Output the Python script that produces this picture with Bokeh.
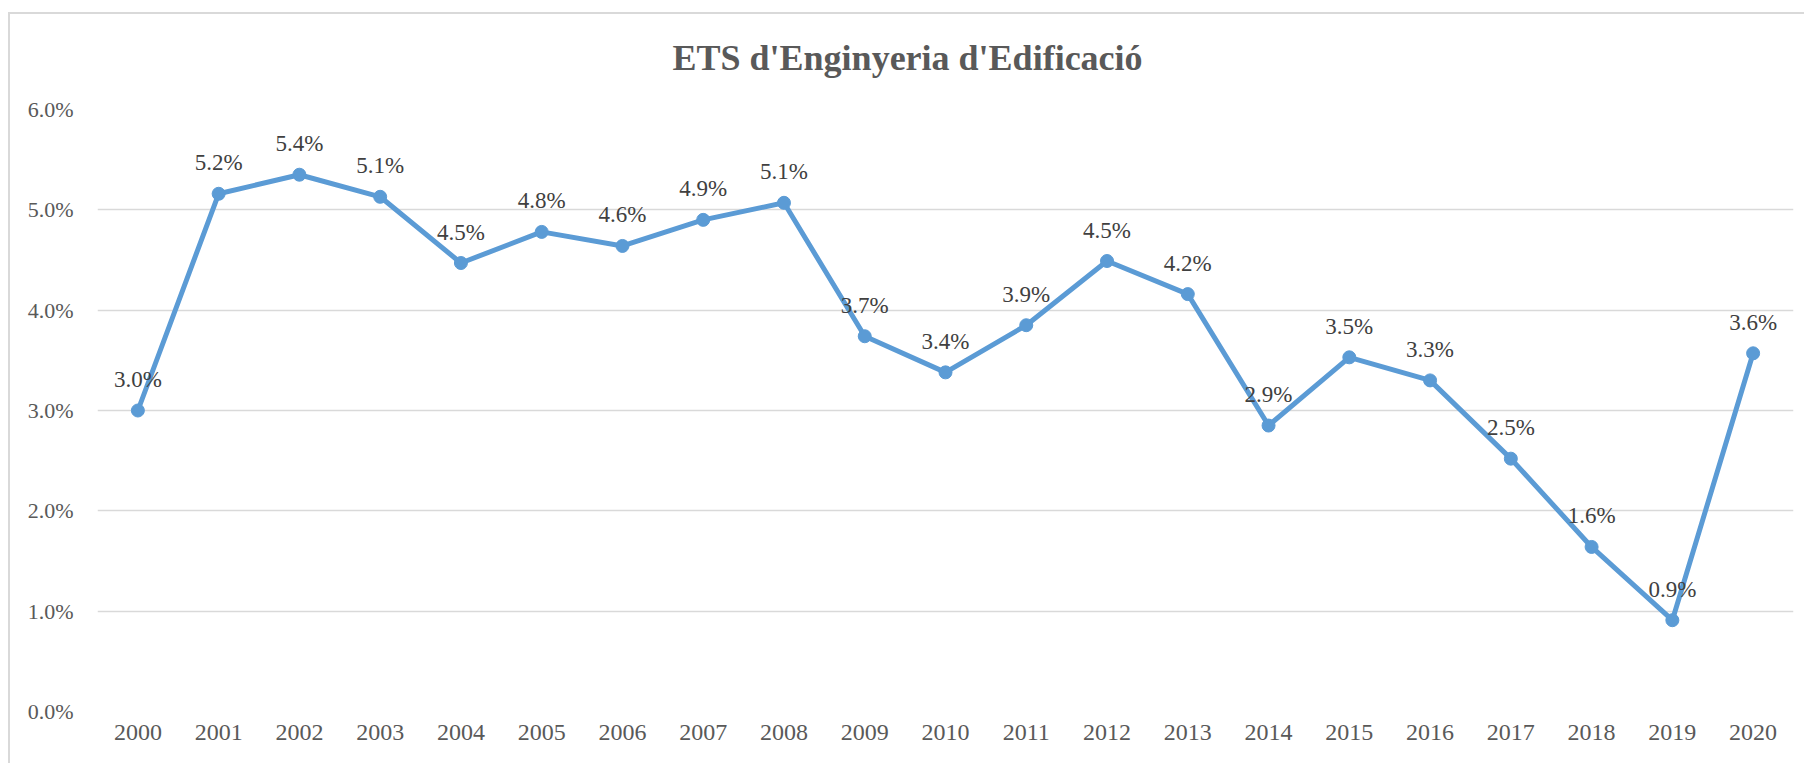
from bokeh.plotting import figure
from bokeh.models import Range1d, FactorRange, ColumnDataSource, FixedTicker
from bokeh.core.properties import value
from bokeh.embed import file_html
from bokeh.resources import INLINE

years = ["2000", "2001", "2002", "2003", "2004", "2005", "2006", "2007", "2008", "2009", "2010",
         "2011", "2012", "2013", "2014", "2015", "2016", "2017", "2018", "2019", "2020"]
rates = [3.00, 5.16, 5.35, 5.13, 4.47, 4.78, 4.64, 4.90, 5.07, 3.74, 3.38,
         3.85, 4.49, 4.16, 2.85, 3.53, 3.30, 2.52, 1.64, 0.91, 3.57]
labels = ["3.0%", "5.2%", "5.4%", "5.1%", "4.5%", "4.8%", "4.6%", "4.9%", "5.1%", "3.7%", "3.4%",
          "3.9%", "4.5%", "4.2%", "2.9%", "3.5%", "3.3%", "2.5%", "1.6%", "0.9%", "3.6%"]
y_ticks = [0, 1, 2, 3, 4, 5, 6]
title_text = "ETS d'Enginyeria d'Edificació"

FONT = "Liberation Serif"
src = ColumnDataSource(dict(x=years, y=rates, lab=labels))

p = figure(width=1796, height=763, x_range=FactorRange(*years, range_padding=0),
           y_range=Range1d(0, 6), output_backend="svg", toolbar_location=None,
           min_border_left=89, min_border_right=11, min_border_top=109, min_border_bottom=52)
p.border_fill_color = None
p.background_fill_color = "white"
p.styles = {
    "margin-left": "8px",
    "background-color": "white",
    "background-image": "linear-gradient(#d9d9d9, #d9d9d9), linear-gradient(#d9d9d9, #d9d9d9)",
    "background-position": "0px 12px, 0px 12px",
    "background-size": "100% 2px, 2px 100%",
    "background-repeat": "no-repeat",
}

p.title.text = title_text
p.title.align = "left"
p.title.offset = 575
p.title.text_font = FONT
p.title.text_font_size = "36px"
p.title.text_font_style = "bold"
p.title.text_color = "#595959"
p.title.standoff = 64

p.outline_line_color = None
p.xgrid.grid_line_color = None
p.ygrid.grid_line_color = "#d9d9d9"
p.ygrid.grid_line_width = 1.5
p.yaxis.ticker = FixedTicker(ticks=y_ticks)
p.yaxis.major_label_overrides = {t: f"{t:.1f}%" for t in y_ticks}

for ax in (p.xaxis, p.yaxis):
    ax.axis_line_color = None
    ax.major_tick_line_color = None
    ax.minor_tick_line_color = None
    ax.major_tick_in = 0
    ax.major_tick_out = 0
    ax.major_label_text_font = FONT
    ax.major_label_text_color = "#595959"
p.yaxis.major_label_text_font_size = "22px"
p.xaxis.major_label_text_font_size = "24px"
p.yaxis.major_label_standoff = 24
p.xaxis.major_label_standoff = 13

p.line("x", "y", source=src, line_color="#5B9BD5", line_width=5)
p.scatter("x", "y", source=src, size=13, fill_color="#5B9BD5", line_color="#5B9BD5")
p.text("x", "y", text="lab", source=src, text_font=value(FONT), text_font_size="23px",
       text_color="#404040", text_align="center", text_baseline="alphabetic", y_offset=-31)

open("out.html", "w").write(file_html(p, INLINE))
